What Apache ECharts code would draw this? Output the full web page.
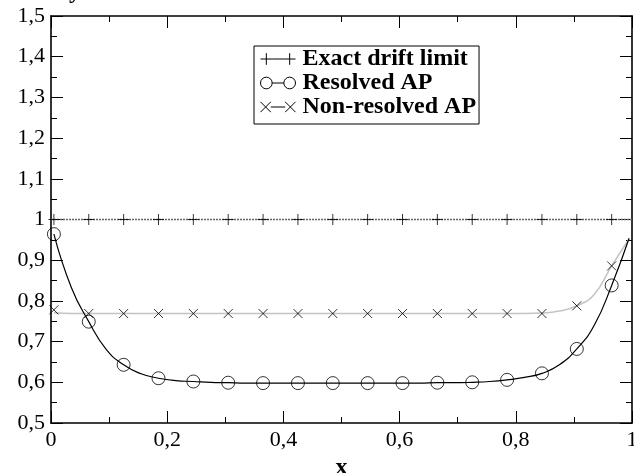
<!DOCTYPE html>
<html>
<head>
<meta charset="utf-8">
<script src="https://cdn.jsdelivr.net/npm/echarts@6/dist/echarts.min.js"></script>
<style>
html,body{margin:0;padding:0;background:#fff;}
#chart{width:634px;height:473px;}
</style>
</head>
<body>
<div id="chart"></div>
<script>
// ---- data ----
const seriesNames = ['Exact drift limit', 'Resolved AP', 'Non-resolved AP'];

// marker abscissae
const markerX = [0.005, 0.065, 0.125, 0.185, 0.245, 0.305, 0.365, 0.425, 0.485,
                 0.545, 0.605, 0.665, 0.725, 0.785, 0.845, 0.905, 0.965];
const exactMarkers = [1, 1, 1, 1, 1, 1, 1, 1, 1, 1, 1, 1, 1, 1, 1, 1, 1];
const resolvedMarkers = [0.964, 0.749, 0.643, 0.610, 0.602, 0.599, 0.598, 0.598, 0.598,
                         0.598, 0.598, 0.599, 0.600, 0.606, 0.622, 0.682, 0.838];
const nonResolvedMarkers = [0.778, 0.769, 0.769, 0.769, 0.769, 0.769, 0.769, 0.769, 0.769,
                            0.769, 0.769, 0.769, 0.769, 0.769, 0.769, 0.788, 0.886];

// continuous curves
const exactCurveX = [0, 1];
const exactCurveY = [1, 1];
const resolvedCurveX = [0.005, 0.035, 0.065, 0.095, 0.125, 0.155, 0.185, 0.215, 0.245, 0.275,
                        0.305, 0.335, 0.365, 0.395, 0.425, 0.455, 0.485, 0.515, 0.545, 0.575,
                        0.605, 0.635, 0.665, 0.695, 0.725, 0.755, 0.785, 0.815, 0.845, 0.875,
                        0.905, 0.935, 0.965, 0.995];
const resolvedCurveY = [0.964, 0.833, 0.749, 0.681, 0.643, 0.621, 0.610, 0.604, 0.602, 0.600,
                        0.599, 0.598, 0.598, 0.598, 0.598, 0.598, 0.598, 0.598, 0.598, 0.598,
                        0.598, 0.598, 0.599, 0.599, 0.600, 0.602, 0.606, 0.612, 0.622, 0.643,
                        0.682, 0.740, 0.838, 0.954];
const nonResolvedCurveX = [0.005, 0.035, 0.065, 0.125, 0.185, 0.245, 0.305, 0.365, 0.425,
                           0.485, 0.545, 0.605, 0.665, 0.725, 0.785, 0.815, 0.845, 0.875,
                           0.905, 0.935, 0.965, 0.995];
const nonResolvedCurveY = [0.771, 0.769, 0.769, 0.769, 0.769, 0.769, 0.769, 0.769, 0.769,
                           0.769, 0.769, 0.769, 0.769, 0.769, 0.769, 0.769, 0.770, 0.775,
                           0.788, 0.816, 0.886, 0.952];

// tick labels
const xTickValues = [0, 0.2, 0.4, 0.6, 0.8, 1];
const xTickLabels = ['0', '0,2', '0,4', '0,6', '0,8', '1'];
const yTickValues = [0.5, 0.6, 0.7, 0.8, 0.9, 1, 1.1, 1.2, 1.3, 1.4, 1.5];
const yTickLabels = ['0,5', '0,6', '0,7', '0,8', '0,9', '1', '1,1', '1,2', '1,3', '1,4', '1,5'];

// ---- build ----
const FONT = '"Liberation Serif", "DejaVu Serif", serif';
function pairs(xs, ys) { return xs.map((x, i) => [x, ys[i]]); }
function lookup(vals, labels) {
  return function (v) {
    for (let i = 0; i < vals.length; i++) if (Math.abs(vals[i] - v) < 1e-6) return labels[i];
    return '';
  };
}

const plusPath = 'path://M0,5L10,5M5,0L5,10';
const crossPath = 'path://M0,0L10,10M0,10L10,0';

const legendIcons = {
  'Exact drift limit': 'path://M0,6L12,6M6,0L6,12M12,6L24,6M24,6L36,6M30,0L30,12',
  'Resolved AP': 'path://M0,6A6,6,0,1,1,12,6A6,6,0,1,1,0,6M12,6L24,6M24,6A6,6,0,1,1,36,6A6,6,0,1,1,24,6',
  'Non-resolved AP': 'path://M1,1L11,11M1,11L11,1M11,6L25,6M25,1L35,11M25,11L35,1'
};

function axisCommon(extra) {
  return Object.assign({
    type: 'value',
    axisLine: { show: true, onZero: false, lineStyle: { color: '#000', width: 1.6 } },
    axisTick: { show: true, inside: true, length: 12, lineStyle: { color: '#000', width: 1 } },
    minorTick: { show: true, splitNumber: 2, length: 6, lineStyle: { color: '#000', width: 1 } },
    splitLine: { show: false },
    minorSplitLine: { show: false }
  }, extra);
}

const labelStyle = { fontFamily: FONT, fontSize: 22, color: '#000' };

const option = {
  backgroundColor: '#fff',
  animation: false,
  grid: { left: 51, right: 2, top: 16, bottom: 50, containLabel: false, outerBoundsMode: 'none' },
  graphic: [
    {
      type: 'text', silent: true, x: 75, y: 4,
      style: { text: 'y', align: 'center', verticalAlign: 'bottom',
               font: 'bold 24px ' + FONT, fill: '#000' }
    }
  ],
  legend: {
    left: 254, top: 46, orient: 'vertical',
    itemWidth: 35, itemHeight: 12, itemGap: 0,
    padding: [1, 3, 5, 6],
    borderColor: '#000', borderWidth: 1, backgroundColor: '#fff',
    selectedMode: false,
    textStyle: { fontFamily: FONT, fontWeight: 'bold', fontSize: 24, color: '#000', lineHeight: 23, padding: [0, 0, 0, 2] },
    data: seriesNames.map(n => ({
      name: n, icon: legendIcons[n],
      itemStyle: { color: 'transparent', borderColor: '#000', borderWidth: 1 }
    }))
  },
  xAxis: [
    axisCommon({
      min: 0, max: 1, interval: 0.2, position: 'bottom',
      axisLabel: Object.assign({ margin: 6, formatter: lookup(xTickValues, xTickLabels) }, labelStyle),
      name: 'x', nameLocation: 'middle', nameGap: 19,
      nameTextStyle: { fontFamily: FONT, fontWeight: 'bold', fontSize: 24, color: '#000' }
    }),
    axisCommon({
      min: 0, max: 1, interval: 0.2, position: 'top',
      axisLabel: { show: false }
    })
  ],
  yAxis: [
    axisCommon({
      min: 0.5, max: 1.5, interval: 0.1, position: 'left',
      axisLabel: Object.assign({ margin: 6, formatter: lookup(yTickValues, yTickLabels) }, labelStyle)
    }),
    axisCommon({
      min: 0.5, max: 1.5, interval: 0.1, position: 'right',
      axisLabel: { show: false }
    })
  ],
  series: [
    {
      name: seriesNames[0], type: 'line', symbol: 'none', silent: true, z: 2,
      data: pairs(exactCurveX, exactCurveY),
      lineStyle: { color: '#666', width: 1.5, type: [2, 1] }
    },
    {
      name: seriesNames[1], type: 'line', symbol: 'none', silent: true, z: 3,
      smooth: 0.5,
      data: pairs(resolvedCurveX, resolvedCurveY),
      lineStyle: { color: '#000', width: 1.2 }
    },
    {
      name: seriesNames[2], type: 'line', symbol: 'none', silent: true, z: 2,
      smooth: 0.5,
      data: pairs(nonResolvedCurveX, nonResolvedCurveY),
      lineStyle: { color: '#c4c4c4', width: 1.5 }
    },
    {
      name: seriesNames[0], type: 'scatter', symbol: plusPath, symbolSize: 11, silent: true, z: 4,
      data: pairs(markerX, exactMarkers),
      itemStyle: { color: 'transparent', borderColor: '#000', borderWidth: 1 }
    },
    {
      name: seriesNames[1], type: 'scatter', symbol: 'circle', symbolSize: 13, silent: true, z: 4,
      data: pairs(markerX, resolvedMarkers),
      itemStyle: { color: 'transparent', borderColor: '#000', borderWidth: 1 }
    },
    {
      name: seriesNames[2], type: 'scatter', symbol: crossPath, symbolSize: 9, silent: true, z: 4,
      data: pairs(markerX, nonResolvedMarkers),
      itemStyle: { color: 'transparent', borderColor: '#000', borderWidth: 1 }
    }
  ]
};

const chart = echarts.init(document.getElementById('chart'), null, { renderer: 'canvas' });
chart.setOption(option);
</script>
</body>
</html>
